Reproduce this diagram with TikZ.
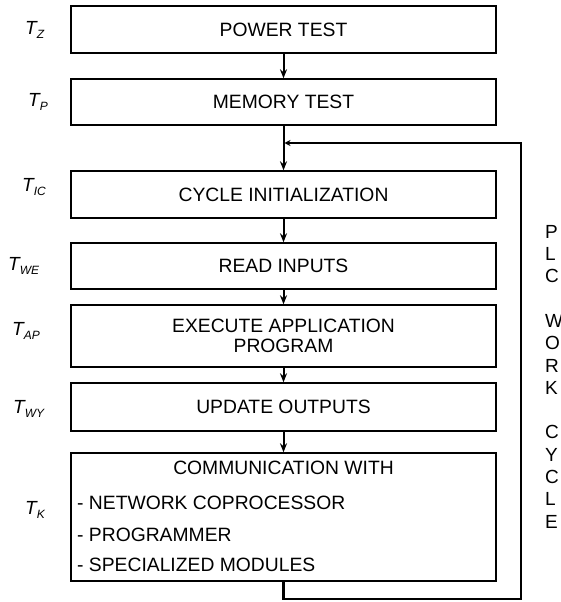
\documentclass[tikz,border=0pt]{standalone}
\usepackage{fontspec}
\setmainfont{Liberation Sans}
\usetikzlibrary{arrows.meta}

\tikzset{
    stage/.style = {draw, line width=1.4pt, minimum width=425pt, inner sep=0pt,
                    font=\fontsize{19.3}{20}\selectfont, align=center},
    flow/.style = {line width=2pt, -{Stealth[length=9pt,width=7pt]}},
    tlabel/.style = {anchor=west, inner sep=0pt, font=\fontsize{19}{22}\selectfont\itshape}
}

\newcommand{\tsub}[2]{#1\raisebox{-4pt}{\fontsize{12}{12}\selectfont #2}}

\begin{document}
\begin{tikzpicture}[x=1pt, y=-1pt, line cap=round]

        \useasboundingbox (0,0) rectangle (560,602);

        % The stages of the cycle.
        \node[stage, minimum height=47pt] (power) at (283.5, 29.5) {POWER TEST};
        \node[stage, minimum height=46pt] (memory) at (283.5, 102) {MEMORY TEST};
        \node[stage, minimum height=47pt] (init) at (283.5, 194.5) {CYCLE INITIALIZATION};
        \node[stage, minimum height=46pt] (read) at (283.5, 266) {READ INPUTS};
        \node[stage, minimum height=62pt] (exec) at (283.5, 336)
            {EXECUTE APPLICATION\\PROGRAM};
        \node[stage, minimum height=48pt] (update) at (283.5, 407) {UPDATE OUTPUTS};
        \node[stage, minimum height=128pt] (comm) at (283.5, 517) {};

        % Text of the last stage.
        \node[font=\fontsize{19.3}{20}\selectfont, inner sep=0pt] (commhead) at (283.5, 468)
            {COMMUNICATION WITH};
        \node[font=\fontsize{19.3}{20}\selectfont, inner sep=0pt, anchor=west] (commnet)
            at (77, 503) {- NETWORK COPROCESSOR};
        \node[font=\fontsize{19.3}{20}\selectfont, inner sep=0pt, anchor=west] (commprog)
            at (77, 535) {- PROGRAMMER};
        \node[font=\fontsize{19.3}{20}\selectfont, inner sep=0pt, anchor=west] (commmod)
            at (77, 565) {- SPECIALIZED MODULES};

        % Times of the stages.
        \node[tlabel] (tz) at (25, 29.5) {\tsub{T}{Z}};
        \node[tlabel] (tp) at (28, 102) {\tsub{T}{P}};
        \node[tlabel] (tic) at (22, 187) {\tsub{T}{IC}};
        \node[tlabel] (twe) at (8, 266) {\tsub{T}{WE}};
        \node[tlabel] (tap) at (12, 331) {\tsub{T}{AP}};
        \node[tlabel] (twy) at (13, 409) {\tsub{T}{WY}};
        \node[tlabel] (tk) at (25, 510) {\tsub{T}{K}};

        % Vertical caption on the right.
        \node[anchor=north west, inner sep=0pt, align=left,
              font=\fontsize{19}{22.3}\selectfont] (caption) at (545, 225)
            {P\\L\\C\\[22.3pt]W\\O\\R\\K\\[22.3pt]C\\Y\\C\\L\\E};

        % Points of the return path.
        \coordinate (a) at (283.5, 599);
        \coordinate (b) at (521, 599);
        \coordinate (c) at (521, 143);
        \coordinate (d) at (284.5, 143);

        % Arrows between the stages.
        \draw[flow] (power) -- (memory);
        \draw[flow] (memory) -- (init);
        \draw[flow] (init) -- (read);
        \draw[flow] (read) -- (exec);
        \draw[flow] (exec) -- (update);
        \draw[flow] (update) -- (comm);

        % Return to the start of the cycle.
        \draw[line width=2.4pt, line cap=butt, -{Stealth[length=6pt,width=6pt]}]
            (comm.south) -- (a) -- (b) -- (c) -- (d);
    \end{tikzpicture}
\end{document}
